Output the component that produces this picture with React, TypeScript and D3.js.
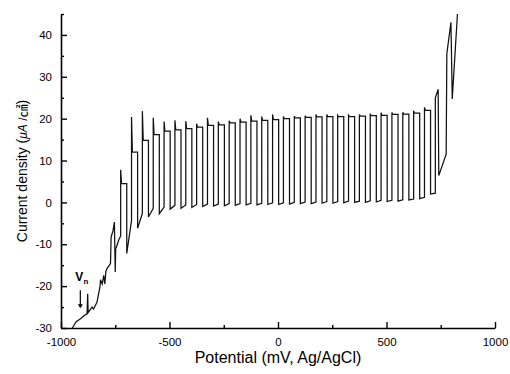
import React, { useRef, useEffect } from "react";
import * as d3 from "d3";

// sweep before the first pulse (mV, µA/cm²)
const preX = [-948, -930, -910, -893, -880, -877, -875, -857, -850, -834, -820, -818, -810, -803, -798, -793, -788, -772, -769, -760, -754, -750, -748, -745, -734, -725];
const preY = [-30, -28.5, -27.8, -27, -26.6, -21.8, -26.3, -25, -25.5, -23.8, -20, -18.5, -19.5, -17.4, -19.5, -16.5, -15.8, -14.6, -8.3, -6.7, -4.7, -16.6, -11, -10.7, -9, -8];

// pulse train: potential where each pulse rises, spike, plateau, value after fall, value before next rise
const pulseStart = [-725, -675, -625, -575, -525, -475, -425, -375, -325, -275, -225, -175, -125, -75, -25, 25, 75, 125, 175, 225, 275, 325, 375, 425, 475, 525, 575, 625, 675];
const pulsePeak = [7.8, 20.4, 21.8, 20.2, 19.3, 19.6, 19.4, 18.8, 20.2, 19.3, 19.5, 20.0, 20.8, 20.5, 21.0, 20.5, 20.6, 20.7, 21.0, 21.0, 20.8, 20.8, 21.0, 21.2, 21.4, 21.5, 21.5, 21.9, 22.7];
const pulseTop = [4.5, 12.0, 14.8, 16.2, 17.0, 17.3, 17.6, 18.0, 18.4, 18.5, 19.0, 19.2, 19.4, 19.6, 19.8, 20.0, 20.2, 20.3, 20.4, 20.5, 20.5, 20.5, 20.6, 20.7, 20.8, 21.0, 21.1, 21.3, 22.0];
const pulseDip = [-12.2, -6.2, -3.5, -2.7, -1.6, -1.4, -1.2, -1.0, -0.9, -0.8, -0.7, -0.6, -0.6, -0.5, -0.5, -0.4, -0.3, -0.3, -0.2, -0.2, -0.1, 0.0, 0.0, 0.1, 0.2, 0.3, 0.6, 0.9, 2.0];
const pulseBase = [-4.3, -2.6, -1.4, -1.1, -0.7, -0.6, -0.5, -0.4, -0.4, -0.3, -0.3, -0.2, -0.2, -0.1, -0.1, 0.0, 0.1, 0.1, 0.2, 0.2, 0.3, 0.3, 0.4, 0.5, 0.5, 0.6, 0.8, 1.2, 2.2];

// breakdown at the anodic end
const tailX = [725, 738, 741, 775, 778, 797, 803, 827];
const tailY = [25, 27, 6.4, 11.5, 35.5, 43, 24.7, 45];

const xMajor = [-1000, -500, 0, 500, 1000];
const xMinor = [-750, -250, 250, 750];
const yMajor = [-30, -20, -10, 0, 10, 20, 30, 40];
const yMinor = [-25, -15, -5, 5, 15, 25, 35, 45];

const W = 510;
const H = 374;

const App = () => {
  const ref = useRef<SVGSVGElement>(null);

  useEffect(() => {
    document.body.style.margin = "0";
    const svg = d3.select(ref.current);
    svg.selectAll("*").remove();

    const x = d3.scaleLinear().domain([-1000, 1000]).range([61, 495]);
    const y = d3.scaleLinear().domain([-30, 45]).range([328, 14]);

    const pts: [number, number][] = preX.map((v, i) => [v, preY[i]]);
    pulseStart.forEach((r, i) => {
      const next = i < pulseStart.length - 1 ? pulseStart[i + 1] : tailX[0];
      pts.push([r, pulsePeak[i]]);
      pts.push([r + 4, pulseTop[i]]);
      pts.push([r + 28, pulseTop[i]]);
      pts.push([r + 28, pulseDip[i]]);
      pts.push([next, pulseBase[i]]);
    });
    tailX.forEach((v, i) => pts.push([v, tailY[i]]));

    const line = d3
      .line<[number, number]>()
      .x((d) => x(d[0]))
      .y((d) => y(d[1]));

    svg
      .append("path")
      .attr("d", line(pts))
      .attr("fill", "none")
      .attr("stroke", "#111")
      .attr("stroke-width", 1.25)
      .attr("stroke-linejoin", "miter");

    const font = "Liberation Sans, Arial, sans-serif";
    const fmt = (d: d3.NumberValue) => String(d);

    // axes, ticks pointing inward
    const gx = svg.append("g").attr("transform", `translate(0,${y(-30)})`);
    gx.call(d3.axisBottom(x).tickValues(xMajor).tickSizeInner(-6).tickSizeOuter(0).tickPadding(10).tickFormat(fmt));
    const gxMinor = gx.append("g");
    gxMinor.call(d3.axisBottom(x).tickValues(xMinor).tickSizeInner(-3).tickSizeOuter(0).tickFormat(() => ""));
    gxMinor.select(".domain").remove();

    const gy = svg.append("g").attr("transform", `translate(${x(-1000)},0)`);
    gy.call(d3.axisLeft(y).tickValues(yMajor).tickSizeInner(-6).tickSizeOuter(0).tickPadding(9).tickFormat(fmt));
    const gyMinor = gy.append("g");
    gyMinor.call(d3.axisLeft(y).tickValues(yMinor).tickSizeInner(-3).tickSizeOuter(0).tickFormat(() => ""));
    gyMinor.select(".domain").remove();

    svg.selectAll(".domain").attr("stroke", "#000").attr("stroke-width", 1.6);
    svg.selectAll(".tick line").attr("stroke", "#000").attr("stroke-width", 1.4);
    svg
      .selectAll(".tick text")
      .attr("fill", "#000")
      .style("font-family", font)
      .style("font-size", "11.5px");

    // axis titles
    svg
      .append("text")
      .attr("x", x(0))
      .attr("y", 363)
      .attr("text-anchor", "middle")
      .style("font-family", font)
      .style("font-size", "16px")
      .text("Potential (mV, Ag/AgCl)");

    const yl = svg
      .append("text")
      .attr("transform", `translate(27,${y(7.5)}) rotate(-90)`)
      .attr("text-anchor", "middle")
      .style("font-family", font)
      .style("font-size", "14px");
    yl.append("tspan").text("Current density (");
    yl.append("tspan").style("font-style", "italic").style("font-size", "12px").text("μA");
    yl.append("tspan").style("font-size", "12px").text(" /");
    yl.append("tspan")
      .style("font-family", "Noto Sans CJK JP")
      .style("font-size", "13px")
      .text("㎠");
    yl.append("tspan").text(")");

    // V_n marker
    const vn = svg
      .append("text")
      .attr("x", x(-920) - 3)
      .attr("y", y(-18.8))
      .style("font-family", font)
      .style("font-weight", "bold")
      .style("font-size", "12px");
    vn.append("tspan").text("V");
    vn.append("tspan").attr("dy", 3).style("font-size", "8px").text("n");

    const ax = x(-911);
    svg
      .append("line")
      .attr("x1", ax)
      .attr("x2", ax)
      .attr("y1", y(-21))
      .attr("y2", y(-24.5))
      .attr("stroke", "#000")
      .attr("stroke-width", 1.2);
    svg
      .append("path")
      .attr("d", `M${ax - 2.5},${y(-24.3)} L${ax + 2.5},${y(-24.3)} L${ax},${y(-25.3)} Z`)
      .attr("fill", "#000");
  }, []);

  return <svg ref={ref} width={W} height={H} style={{ display: "block", background: "#fff" }} />;
};

export default App;
